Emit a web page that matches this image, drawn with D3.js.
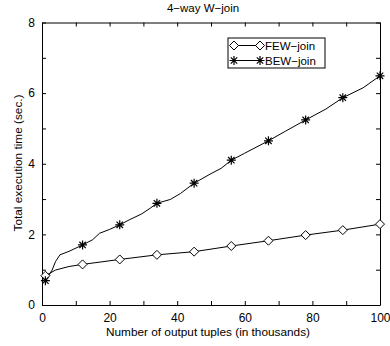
<!DOCTYPE html>
<html>
<head>
<meta charset="utf-8">
<script src="https://cdn.jsdelivr.net/npm/d3@7"></script>
<style>
  body { margin: 0; background: #fff; }
  text { font-family: "Liberation Sans", Arial, sans-serif; fill: #000; }
</style>
</head>
<body>
<div id="chart"></div>
<script>
// data (x in thousands of tuples, y in seconds)
const fewX = [1, 4, 8, 12, 23, 34, 45, 56, 67, 78, 89, 100];
const fewY = [0.83, 0.99, 1.09, 1.15, 1.29, 1.42, 1.51, 1.67, 1.82, 1.98, 2.12, 2.29];
const bewX = [1, 3, 4, 5.3, 8, 12, 15, 17, 20, 23, 26, 29.5, 32, 34, 38, 41, 45, 50, 53, 56, 60, 67, 72, 78, 84, 89, 95, 100];
const bewY = [0.69, 0.99, 1.23, 1.42, 1.52, 1.70, 1.85, 2.03, 2.14, 2.27, 2.42, 2.58, 2.74, 2.88, 2.99, 3.16, 3.45, 3.72, 3.87, 4.10, 4.30, 4.65, 4.92, 5.24, 5.55, 5.87, 6.15, 6.49];
const markerX = [1, 12, 23, 34, 45, 56, 67, 78, 89, 100];
const xTicks = [0, 10, 20, 30, 40, 50, 60, 70, 80, 90, 100];
const yTicks = [0, 1, 2, 3, 4, 5, 6, 7, 8];
const seriesNames = ["FEW\u2212join", "BEW\u2212join"];

const W = 390, H = 346;
const margin = {top: 22.5, right: 10, bottom: 41, left: 42};
const width = W - margin.left - margin.right;
const height = H - margin.top - margin.bottom;

const svg = d3.select("#chart").append("svg")
    .attr("width", W).attr("height", H);
const g = svg.append("g")
    .attr("transform", "translate(" + margin.left + "," + margin.top + ")");

const x = d3.scaleLinear().domain([0, 100]).range([0, width]);
const y = d3.scaleLinear().domain([0, 8]).range([height, 0]);

// axes with inward ticks, labels only on every other tick
g.append("g").attr("transform", "translate(0," + height + ")")
    .call(d3.axisBottom(x).tickValues(xTicks).tickSizeInner(-4).tickSizeOuter(0).tickPadding(8)
        .tickFormat(d => d % 20 === 0 ? d : ""));
g.append("g")
    .call(d3.axisLeft(y).tickValues(yTicks).tickSizeInner(-4).tickSizeOuter(0).tickPadding(7)
        .tickFormat(d => d % 2 === 0 ? d : ""));
g.append("g")
    .call(d3.axisTop(x).tickValues(xTicks).tickSizeInner(-4).tickSizeOuter(0).tickFormat(""));
g.append("g").attr("transform", "translate(" + width + ",0)")
    .call(d3.axisRight(y).tickValues(yTicks).tickSizeInner(-4).tickSizeOuter(0).tickFormat(""));
g.selectAll(".domain").attr("stroke", "#000");
g.selectAll(".tick line").attr("stroke", "#000");
g.selectAll(".tick text").attr("font-size", 12).attr("font-family", "Liberation Sans, Arial, sans-serif");

const line = d3.line().x(d => x(d[0])).y(d => y(d[1]));
const few = fewX.map((v, i) => [v, fewY[i]]);
const bew = bewX.map((v, i) => [v, bewY[i]]);

g.append("path").datum(few).attr("d", line)
    .attr("fill", "none").attr("stroke", "#000").attr("stroke-width", 1);
g.append("path").datum(bew).attr("d", line)
    .attr("fill", "none").attr("stroke", "#000").attr("stroke-width", 1);

const diamond = (sel) => sel.append("path")
    .attr("d", "M0,-4.5L4.5,0L0,4.5L-4.5,0Z")
    .attr("fill", "#fff").attr("stroke", "#000").attr("stroke-width", 1);
const star = (sel) => sel.append("path")
    .attr("d", "M0,-4.5V4.5M-4.5,0H4.5M-3.2,-3.2L3.2,3.2M-3.2,3.2L3.2,-3.2")
    .attr("fill", "none").attr("stroke", "#000").attr("stroke-width", 1.2);

g.selectAll(".fewM").data(few.filter(d => markerX.includes(d[0])))
    .join("g").attr("class", "fewM")
    .attr("transform", d => "translate(" + x(d[0]) + "," + y(d[1]) + ")")
    .call(diamond);
g.selectAll(".bewM").data(bew.filter(d => markerX.includes(d[0])))
    .join("g").attr("class", "bewM")
    .attr("transform", d => "translate(" + x(d[0]) + "," + y(d[1]) + ")")
    .call(star);

// legend
const lg = svg.append("g").attr("transform", "translate(228,38)");
lg.append("rect").attr("width", 97).attr("height", 30)
    .attr("fill", "#fff").attr("stroke", "#000").attr("stroke-width", 1);
[diamond, star].forEach((mk, i) => {
    const row = lg.append("g").attr("transform", "translate(0," + (7.5 + i * 15) + ")");
    row.append("line").attr("x1", 6).attr("x2", 32).attr("stroke", "#000");
    row.append("g").attr("transform", "translate(6,0)").call(mk);
    row.append("g").attr("transform", "translate(32,0)").call(mk);
    row.append("text").attr("x", 37).attr("y", 4).attr("font-size", 11.5).text(seriesNames[i]);
});

// titles
svg.append("text").attr("x", 203).attr("y", 12).attr("text-anchor", "middle")
    .attr("font-size", 11.5).text("4\u2212way W\u2212join");
svg.append("text").attr("x", 208).attr("y", 336).attr("text-anchor", "middle")
    .attr("font-size", 11.8).text("Number of output tuples (in thousands)");
svg.append("text").attr("transform", "translate(22,163) rotate(-90)").attr("text-anchor", "middle")
    .attr("font-size", 11.8).text("Total execution time (sec.)");
</script>
</body>
</html>
